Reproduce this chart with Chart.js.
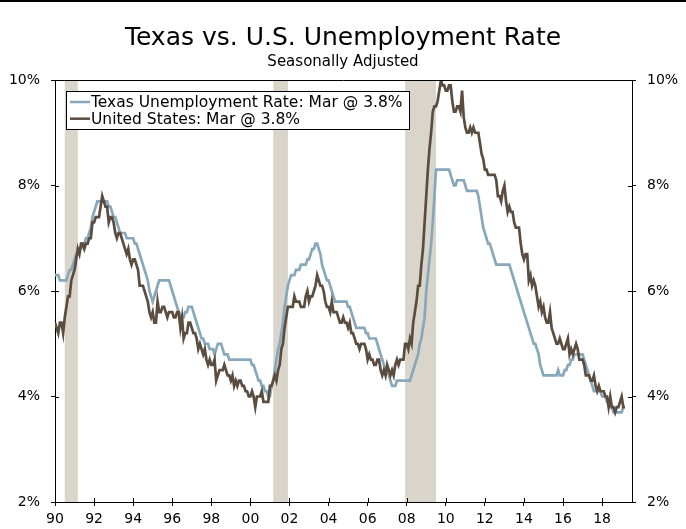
<!DOCTYPE html>
<html>
<head>
<meta charset="utf-8">
<script src="https://cdn.jsdelivr.net/npm/chart.js@4.4.1/dist/chart.umd.min.js"></script>
<style>
  html, body { margin: 0; padding: 0; background: #fff; }
  #wrap { position: relative; width: 686px; height: 529px; }
  #topRule { position: absolute; left: 0; top: 0; width: 686px; height: 2px; background: #000; }
</style>
</head>
<body>
<div id="wrap">
  <canvas id="chart" width="686" height="529"></canvas>
  <div id="topRule"></div>
</div>
<script>
// monthly series, Jan 1990 .. Mar 2019
const startYear = 1990;
const yearTicks = [1990, 1992, 1994, 1996, 1998, 2000, 2002, 2004, 2006, 2008, 2010, 2012, 2014, 2016, 2018];
const rateTicks = [2, 4, 6, 8, 10];
const recessions = [[1990.5, 1991.17], [2001.17, 2001.92], [2007.92, 2009.5]];
const seriesNames = ["Texas Unemployment Rate: Mar @ 3.8%", "United States: Mar @ 3.8%"];

const texasRate = [
  6.3, 6.3, 6.3, 6.2, 6.2, 6.2, 6.2, 6.2, 6.3, 6.4, 6.4, 6.5, // 1990
  6.6, 6.7, 6.7, 6.8, 6.8, 6.9, 6.9, 7.0, 7.0, 7.1, 7.2, 7.4, // 1991
  7.5, 7.6, 7.7, 7.7, 7.7, 7.7, 7.7, 7.7, 7.7, 7.6, 7.6, 7.5, // 1992
  7.4, 7.4, 7.3, 7.2, 7.1, 7.1, 7.1, 7.1, 7.0, 7.0, 7.0, 7.0, // 1993
  7.0, 6.9, 6.9, 6.8, 6.7, 6.6, 6.5, 6.4, 6.3, 6.2, 6.0, 5.9, // 1994
  5.8, 5.9, 6.0, 6.1, 6.2, 6.2, 6.2, 6.2, 6.2, 6.2, 6.2, 6.1, // 1995
  6.0, 5.9, 5.8, 5.7, 5.6, 5.5, 5.5, 5.5, 5.6, 5.6, 5.7, 5.7, // 1996
  5.7, 5.6, 5.5, 5.4, 5.3, 5.2, 5.1, 5.1, 5.0, 5.0, 5.0, 4.9, // 1997
  4.9, 4.9, 4.8, 4.9, 5.0, 5.0, 5.0, 4.9, 4.8, 4.8, 4.8, 4.7, // 1998
  4.7, 4.7, 4.7, 4.7, 4.7, 4.7, 4.7, 4.7, 4.7, 4.7, 4.7, 4.7, // 1999
  4.7, 4.6, 4.6, 4.5, 4.4, 4.3, 4.3, 4.2, 4.2, 4.1, 4.1, 4.0, // 2000
  4.0, 4.2, 4.3, 4.5, 4.7, 4.9, 5.0, 5.2, 5.4, 5.7, 5.9, 6.1, // 2001
  6.2, 6.3, 6.3, 6.3, 6.4, 6.4, 6.4, 6.5, 6.5, 6.5, 6.5, 6.6, // 2002
  6.6, 6.7, 6.8, 6.8, 6.9, 6.9, 6.8, 6.7, 6.5, 6.4, 6.3, 6.2, // 2003
  6.2, 6.1, 6.0, 5.9, 5.8, 5.8, 5.8, 5.8, 5.8, 5.8, 5.8, 5.8, // 2004
  5.7, 5.7, 5.6, 5.5, 5.4, 5.3, 5.3, 5.3, 5.3, 5.3, 5.3, 5.2, // 2005
  5.2, 5.1, 5.1, 5.1, 5.1, 5.1, 5.0, 4.9, 4.8, 4.7, 4.6, 4.5, // 2006
  4.5, 4.4, 4.3, 4.2, 4.2, 4.2, 4.3, 4.3, 4.3, 4.3, 4.3, 4.3, // 2007
  4.3, 4.3, 4.3, 4.4, 4.5, 4.6, 4.7, 4.8, 5.0, 5.1, 5.3, 5.5, // 2008
  6.0, 6.3, 6.6, 6.9, 7.3, 7.8, 8.3, 8.3, 8.3, 8.3, 8.3, 8.3, // 2009
  8.3, 8.3, 8.3, 8.2, 8.1, 8.0, 8.0, 8.1, 8.1, 8.1, 8.1, 8.1, // 2010
  8.0, 7.9, 7.9, 7.9, 7.9, 7.9, 7.9, 7.9, 7.8, 7.6, 7.4, 7.2, // 2011
  7.1, 7.0, 6.9, 6.9, 6.8, 6.7, 6.6, 6.5, 6.5, 6.5, 6.5, 6.5, // 2012
  6.5, 6.5, 6.5, 6.5, 6.4, 6.3, 6.2, 6.1, 6.0, 5.9, 5.8, 5.7, // 2013
  5.6, 5.5, 5.4, 5.3, 5.2, 5.1, 5.0, 5.0, 4.9, 4.8, 4.6, 4.5, // 2014
  4.4, 4.4, 4.4, 4.4, 4.4, 4.4, 4.4, 4.4, 4.4, 4.5, 4.4, 4.4, // 2015
  4.4, 4.5, 4.5, 4.6, 4.6, 4.7, 4.7, 4.8, 4.8, 4.8, 4.8, 4.8, // 2016
  4.8, 4.7, 4.6, 4.5, 4.4, 4.3, 4.2, 4.1, 4.1, 4.1, 4.1, 4.1, // 2017
  4.0, 4.0, 4.0, 3.9, 3.9, 3.8, 3.8, 3.7, 3.7, 3.7, 3.7, 3.7, // 2018
  3.7, 3.8, 3.8                                               // 2019
];

const usRate = [
  5.4, 5.3, 5.2, 5.4, 5.4, 5.2, 5.5, 5.7, 5.9, 5.9, 6.2, 6.3, // 1990
  6.4, 6.6, 6.8, 6.7, 6.9, 6.9, 6.8, 6.9, 6.9, 7.0, 7.0, 7.3, // 1991
  7.3, 7.4, 7.4, 7.4, 7.6, 7.8, 7.7, 7.6, 7.6, 7.3, 7.4, 7.4, // 1992
  7.3, 7.1, 7.0, 7.1, 7.1, 7.0, 6.9, 6.8, 6.7, 6.8, 6.6, 6.5, // 1993
  6.6, 6.6, 6.5, 6.4, 6.1, 6.1, 6.1, 6.0, 5.9, 5.8, 5.6, 5.5, // 1994
  5.6, 5.4, 5.4, 5.8, 5.6, 5.6, 5.7, 5.7, 5.6, 5.5, 5.6, 5.6, // 1995
  5.6, 5.5, 5.5, 5.6, 5.6, 5.3, 5.5, 5.1, 5.2, 5.2, 5.4, 5.4, // 1996
  5.3, 5.2, 5.2, 5.1, 4.9, 5.0, 4.9, 4.8, 4.9, 4.7, 4.6, 4.7, // 1997
  4.6, 4.6, 4.7, 4.3, 4.4, 4.5, 4.5, 4.5, 4.6, 4.5, 4.4, 4.4, // 1998
  4.3, 4.4, 4.2, 4.3, 4.2, 4.3, 4.3, 4.2, 4.2, 4.1, 4.1, 4.0, // 1999
  4.0, 4.1, 4.0, 3.8, 4.0, 4.0, 4.0, 4.1, 3.9, 3.9, 3.9, 3.9, // 2000
  4.2, 4.2, 4.3, 4.4, 4.3, 4.5, 4.6, 4.9, 5.0, 5.3, 5.5, 5.7, // 2001
  5.7, 5.7, 5.7, 5.9, 5.8, 5.8, 5.8, 5.7, 5.7, 5.7, 5.9, 6.0, // 2002
  5.8, 5.9, 5.9, 6.0, 6.1, 6.3, 6.2, 6.1, 6.1, 6.0, 5.8, 5.7, // 2003
  5.7, 5.6, 5.8, 5.6, 5.6, 5.6, 5.5, 5.4, 5.4, 5.5, 5.4, 5.4, // 2004
  5.3, 5.4, 5.2, 5.2, 5.1, 5.0, 5.0, 4.9, 5.0, 5.0, 5.0, 4.9, // 2005
  4.7, 4.8, 4.7, 4.7, 4.6, 4.6, 4.7, 4.7, 4.5, 4.4, 4.5, 4.4, // 2006
  4.6, 4.5, 4.4, 4.5, 4.4, 4.6, 4.7, 4.6, 4.7, 4.7, 4.7, 5.0, // 2007
  5.0, 4.9, 5.1, 5.0, 5.4, 5.6, 5.8, 6.1, 6.1, 6.5, 6.8, 7.3, // 2008
  7.8, 8.3, 8.7, 9.0, 9.4, 9.5, 9.5, 9.6, 9.8, 10.0, 9.9, 9.9, // 2009
  9.8, 9.8, 9.9, 9.9, 9.6, 9.4, 9.4, 9.5, 9.5, 9.4, 9.8, 9.3, // 2010
  9.1, 9.0, 9.0, 9.1, 9.0, 9.1, 9.0, 9.0, 9.0, 8.8, 8.6, 8.5, // 2011
  8.3, 8.3, 8.2, 8.2, 8.2, 8.2, 8.2, 8.1, 7.8, 7.8, 7.7, 7.9, // 2012
  8.0, 7.7, 7.5, 7.6, 7.5, 7.5, 7.3, 7.2, 7.2, 7.2, 6.9, 6.7, // 2013
  6.6, 6.7, 6.7, 6.2, 6.3, 6.1, 6.2, 6.1, 5.9, 5.7, 5.8, 5.6, // 2014
  5.7, 5.5, 5.4, 5.4, 5.6, 5.3, 5.2, 5.1, 5.0, 5.0, 5.1, 5.0, // 2015
  4.9, 4.9, 5.0, 5.1, 4.8, 4.9, 4.8, 4.9, 5.0, 4.9, 4.7, 4.7, // 2016
  4.7, 4.6, 4.4, 4.4, 4.4, 4.3, 4.3, 4.4, 4.2, 4.1, 4.2, 4.1, // 2017
  4.1, 4.1, 4.0, 4.0, 3.8, 4.0, 3.8, 3.8, 3.7, 3.8, 3.8, 3.9, // 2018
  4.0, 3.8, 3.8                                               // 2019
];

const texasColor = "#87a7ba";
const usColor = "#5b4c40";
const recessionColor = "#d9d5ca";
const fontFamily = "'DejaVu Sans', Verdana, sans-serif";

const toPoints = arr => arr.map((v, i) => ({ x: startYear + i / 12, y: v }));

const recessionBars = {
  id: "recessionBars",
  beforeDraw(chart) {
    const { ctx, chartArea, scales } = chart;
    ctx.save();
    ctx.fillStyle = recessionColor;
    recessions.forEach(([a, b]) => {
      const x0 = scales.x.getPixelForValue(a);
      const x1 = scales.x.getPixelForValue(b);
      ctx.fillRect(x0, chartArea.top, x1 - x0, chartArea.bottom - chartArea.top);
    });
    ctx.restore();
  }
};

const frameAndLegend = {
  id: "frameAndLegend",
  afterDraw(chart) {
    const { ctx, chartArea, scales } = chart;
    const { left, right, top, bottom } = chartArea;
    ctx.save();
    ctx.strokeStyle = "#000";
    ctx.lineWidth = 1;
    ctx.beginPath();
    // top edge of the frame
    ctx.moveTo(left, Math.round(top) + 0.5);
    ctx.lineTo(right, Math.round(top) + 0.5);
    // inner half of the crossing ticks
    scales.y.ticks.forEach(t => {
      const y = Math.round(scales.y.getPixelForValue(t.value)) + 0.5;
      ctx.moveTo(left, y); ctx.lineTo(left + 4, y);
      ctx.moveTo(right - 4, y); ctx.lineTo(right, y);
    });
    scales.x.ticks.forEach(t => {
      const x = Math.round(scales.x.getPixelForValue(t.value)) + 0.5;
      ctx.moveTo(x, bottom - 4); ctx.lineTo(x, bottom);
    });
    ctx.stroke();

    // legend box
    const bx = left + 11, by = top + 11, bw = 343, bh = 38;
    ctx.fillStyle = "#fff";
    ctx.fillRect(bx, by, bw, bh);
    ctx.strokeRect(Math.round(bx) + 0.5, Math.round(by) + 0.5, bw, bh);
    ctx.font = "15.5px " + fontFamily;
    ctx.textBaseline = "middle";
    chart.data.datasets.forEach((ds, i) => {
      const ry = by + 11 + i * 16.7;
      ctx.strokeStyle = ds.borderColor;
      ctx.lineWidth = 2.5;
      ctx.beginPath();
      ctx.moveTo(bx + 4, ry);
      ctx.lineTo(bx + 24, ry);
      ctx.stroke();
      ctx.fillStyle = "#000";
      ctx.fillText(ds.label, bx + 25, ry + 1);
    });
    ctx.restore();
  }
};

const tickFont = { family: fontFamily, size: 14 };
const pct = v => v + "%";

new Chart(document.getElementById("chart"), {
  type: "line",
  data: {
    datasets: [
      {
        label: seriesNames[0],
        data: toPoints(texasRate),
        borderColor: texasColor,
        borderWidth: 2.7,
        pointRadius: 0,
        order: 1
      },
      {
        label: seriesNames[1],
        data: toPoints(usRate),
        borderColor: usColor,
        borderWidth: 2.7,
        pointRadius: 0,
        order: 0
      }
    ]
  },
  options: {
    responsive: false,
    animation: false,
    devicePixelRatio: 1,
    layout: { padding: 0 },
    scales: {
      x: {
        type: "linear",
        min: startYear,
        max: 2019.53,
        afterBuildTicks: scale => { scale.ticks = yearTicks.map(v => ({ value: v })); },
        afterFit: scale => { scale.height = 27; },
        ticks: {
          font: tickFont,
          color: "#000",
          padding: 5,
          maxRotation: 0,
          autoSkip: false,
          callback: v => String(v % 100).padStart(2, "0")
        },
        grid: { drawOnChartArea: false, tickLength: 4, color: "#000" },
        border: { color: "#000", width: 1 }
      },
      y: {
        position: "left",
        min: 2,
        max: 10,
        afterBuildTicks: scale => { scale.ticks = rateTicks.map(v => ({ value: v })); },
        afterFit: scale => { scale.width = 55; },
        ticks: { font: tickFont, color: "#000", padding: 11, callback: pct },
        grid: { drawOnChartArea: false, tickLength: 4, color: "#000" },
        border: { color: "#000", width: 1 }
      },
      y2: {
        position: "right",
        min: 2,
        max: 10,
        afterBuildTicks: scale => { scale.ticks = rateTicks.map(v => ({ value: v })); },
        afterFit: scale => { scale.width = 54; },
        ticks: { font: tickFont, color: "#000", padding: 11, callback: pct },
        grid: { drawOnChartArea: false, tickLength: 4, color: "#000" },
        border: { color: "#000", width: 1 }
      }
    },
    plugins: {
      legend: { display: false },
      tooltip: { enabled: false },
      title: {
        display: true,
        text: "Texas vs. U.S. Unemployment Rate",
        color: "#000",
        font: { family: fontFamily, size: 25, weight: "normal" },
        padding: { top: 23, bottom: 0 }
      },
      subtitle: {
        display: true,
        text: "Seasonally Adjusted",
        color: "#000",
        font: { family: fontFamily, size: 15, weight: "normal" },
        padding: { top: 0, bottom: 9 }
      }
    }
  },
  plugins: [recessionBars, frameAndLegend]
});
</script>
</body>
</html>
